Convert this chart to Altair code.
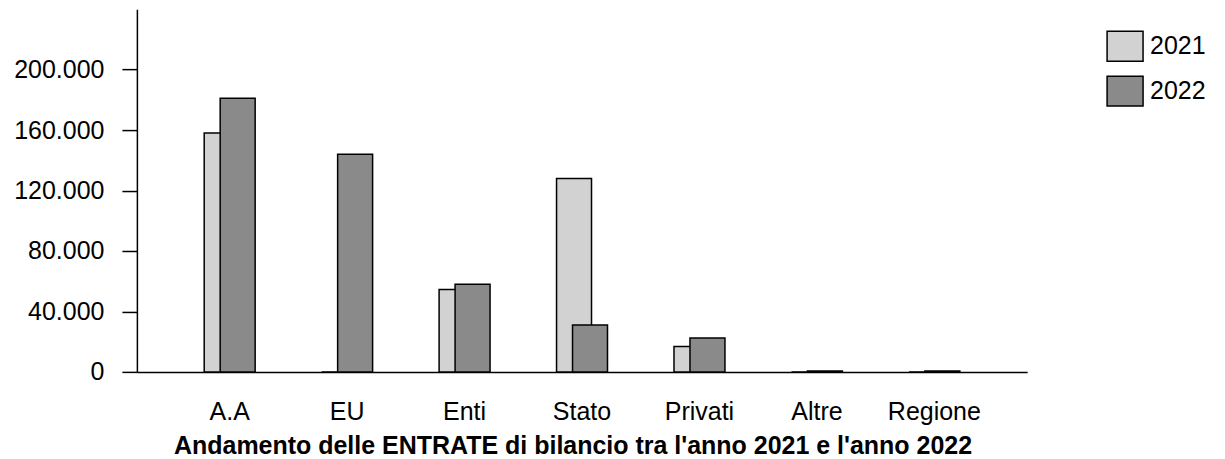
import altair as alt
import pandas as pd

categories = ["A.A", "EU", "Enti", "Stato", "Privati", "Altre", "Regione"]
years = ["2021", "2022"]
v2021 = [158000, 0, 54500, 128000, 16800, 0, 0]
v2022 = [181000, 144000, 58000, 31000, 22500, 600, 600]
y_ticks = [0, 40000, 80000, 120000, 160000, 200000]
colors = ["#d2d2d2", "#8a8a8a"]
title_text = "Andamento delle ENTRATE di bilancio tra l'anno 2021 e l'anno 2022"

rows = []
for c, a, b in zip(categories, v2021, v2022):
    rows.append({"cat": c, "year": "2021", "val": a})
    rows.append({"cat": c, "year": "2022", "val": b})
df = pd.DataFrame(rows)

FONT = "Liberation Sans"

x_enc = alt.X(
    "cat:N",
    sort=categories,
    scale=alt.Scale(paddingInner=0, paddingOuter=0.29),
    axis=alt.Axis(
        title=title_text,
        titleFont=FONT,
        titleFontSize=25,
        titleFontWeight="bold",
        titleColor="black",
        titleBaseline="alphabetic",
        titleY=82,
        titleX=436,
        titleAlign="center",
        labelFont=FONT,
        labelFontSize=25,
        labelColor="black",
        labelAngle=0,
        labelPadding=28,
        ticks=False,
        tickSize=0,
        domainColor="black",
        domainWidth=1.5,
        grid=False,
    ),
)
y_enc = alt.Y(
    "val:Q",
    scale=alt.Scale(domain=[0, 240000], nice=False),
    axis=alt.Axis(
        title=None,
        values=y_ticks,
        labelExpr="replace(format(datum.value, ','), ',', '.')",
        labelFont=FONT,
        labelFontSize=25,
        labelColor="black",
        labelPadding=18,
        tickSize=15,
        tickColor="black",
        tickWidth=1.5,
        domainColor="black",
        domainWidth=1.5,
        grid=False,
    ),
)
color_enc = alt.Color(
    "year:N",
    scale=alt.Scale(domain=years, range=colors),
    legend=alt.Legend(
        title=None,
        orient="none",
        legendX=973,
        legendY=21,
        symbolType="M-1.2,-1H1.2V1H-1.2Z",
        symbolSize=900,
        symbolStrokeColor="black",
        symbolStrokeWidth=1.5,
        symbolOpacity=1,
        labelFont=FONT,
        labelFontSize=25,
        labelColor="black",
        labelOffset=9,
        rowPadding=9,
    ),
)

base = alt.Chart(df)
b2021 = base.transform_filter(alt.datum.year == "2021").mark_bar(
    width=35, xOffset=-8, stroke="black", strokeWidth=1.5, opacity=1
).encode(x=x_enc, y=y_enc, color=color_enc)
b2022 = base.transform_filter(alt.datum.year == "2022").mark_bar(
    width=35, xOffset=8, stroke="black", strokeWidth=1.5, opacity=1
).encode(x=x_enc, y=y_enc, color=color_enc)

chart = (
    alt.layer(b2021, b2022)
    .properties(
        width=891,
        height=363,
        background="white",
        autosize=alt.AutoSizeParams(type="none"),
        padding={"left": 129, "top": 1, "right": 190, "bottom": 90},
    )
    .configure_view(strokeWidth=0, stroke="transparent")
)

chart.save("out.html", embed_options={"renderer": "svg", "actions": False})
